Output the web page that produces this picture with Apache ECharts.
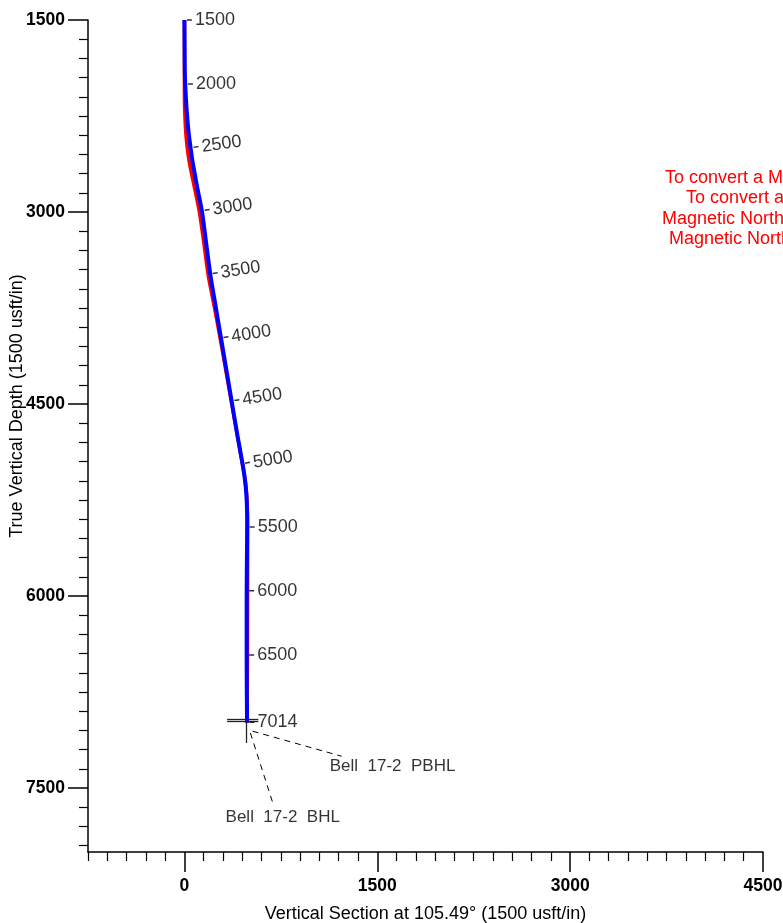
<!DOCTYPE html>
<html>
<head>
<meta charset="utf-8">
<script src="https://cdn.jsdelivr.net/npm/echarts@6/dist/echarts.min.js"></script>
<style>html,body{margin:0;padding:0;background:#fff;overflow:hidden}#c{width:783px;height:923px}</style>
</head>
<body>
<div id="c"></div>
<script>
// ---- data ----
const xTickValues = [0, 1500, 3000, 4500];
const yTickValues = [1500, 3000, 4500, 6000, 7500];

// Actual wellpath (blue): TVD and Vertical Section (usft)
const actualTVD = [1500, 1900, 2000, 2100, 2200, 2300, 2400, 2500, 2600, 2700, 2800, 3000, 3250, 3500, 3750, 4000, 4250, 4500, 4750, 4950, 5050, 5150, 5250, 5400, 5600, 6000, 6500, 6990];
const actualVS  = [0,    3,    6,    11,   17,   25,   35,   48,   62,   80,   98,   137,  170,  203,  245,  287,  329,  371,  413,  449,  465,  477,  484,  488,  487,  484,  484,  487];

// Plan wellpath (red)
const planTVD = [1500, 2100, 2200, 2300, 2400, 2500, 2600, 2700, 2800, 3000, 3250, 3500, 3750, 4000, 4250, 4500, 4750, 4950, 5050, 5150, 5250, 5400, 6000, 6500, 6990];
const planVS  = [0,    0,    2,    6,    12,   22,   36,   55,   76,   116,  152,  186,  234,  280,  324,  368,  412,  448,  466,  479,  487,  491,  491,  490,  487];

// Measured depth annotations along the path
const mdValues = [1500, 2000, 2500, 3000, 3500, 4000, 4500, 5000, 5500, 6000, 6500, 7014];
const mdTVD    = [1500, 2000, 2492, 2984, 3477, 3977, 4469, 4959, 5461, 5959, 6461, 6986];
const mdVS     = [0,    8,    52,   138,  200,  284,  369,  452,  488,  484,  484,  486];

// Targets
const targetNames = ['Bell 17-2 PBHL', 'Bell 17-2 BHL'];
const targetSegments = [
  [[332, 6961], [575, 6961]],
  [[332, 6982], [575, 6982]],
  [[483, 6982], [483, 7148]]
];
const leaderSegments = [
  [[530, 7056], [1223, 7252]],
  [[513, 7070], [690, 7625]]
];
const targetLabelAnchors = [[1130, 7328], [320, 7732]];

const noteLines = [
  'To convert a Magnetic Direction to a Grid Direction, Add 10.54° East',
  'To convert a Magnetic Direction to a True Direction, Add 10.93° East',
  'Magnetic North is 10.54° East of Grid North',
  'Magnetic North is 10.93° East of True North'
];

// ---- styling / layout ----
const FONT = '"Liberation Sans", Arial, sans-serif';
const mdLabelRotate = [0, 0, 8, 9, 9, 9, 9, 9, 0, 0, 0, 0];
const noteX = [665, 686, 662, 669];
const noteY = [178, 198, 219, 239];

function minorList(a, b, step, majors) {
  const out = [];
  for (let v = a; v <= b + 1e-6; v += step) if (majors.indexOf(v) < 0) out.push(v);
  return out;
}
const xMinor = minorList(-750, 4500, 150, xTickValues);
const yMinor = minorList(1500, 7950, 150, yTickValues);

const zip = (a, b) => a.map((v, i) => [v, b[i]]);
const plain = v => String(v);

const chart = echarts.init(document.getElementById('c'), null, {renderer: 'canvas'});

const axisLineStyle = {color: '#000', width: 1.5};

const option = {
  backgroundColor: '#fff',
  animation: false,
  grid: {left: 88, top: 20, right: 20, bottom: 71, containLabel: false, outerBoundsMode: 'none'},
  xAxis: [
    {
      type: 'value', min: -750, max: 4500, position: 'bottom',
      axisLine: {show: true, onZero: false, lineStyle: axisLineStyle},
      axisTick: {show: true, customValues: xTickValues, length: 20, lineStyle: {color: '#000', width: 1.5}},
      axisLabel: {show: true, customValues: xTickValues, formatter: plain, margin: 25, color: '#000', fontWeight: 'bold', fontSize: 17.5, fontFamily: FONT},
      splitLine: {show: false},
      name: 'Vertical Section at 105.49° (1500 usft/in)',
      nameLocation: 'middle', nameGap: 53,
      nameTextStyle: {color: '#000', fontSize: 18, fontFamily: FONT}
    },
    {
      type: 'value', min: -750, max: 4500, position: 'bottom',
      axisLine: {show: false, onZero: false},
      axisTick: {show: true, customValues: xMinor, length: 9, lineStyle: {color: '#000', width: 1.2}},
      axisLabel: {show: false},
      splitLine: {show: false}
    }
  ],
  yAxis: [
    {
      type: 'value', min: 1500, max: 8000, inverse: true, position: 'left',
      axisLine: {show: true, onZero: false, lineStyle: axisLineStyle},
      axisTick: {show: true, customValues: yTickValues, length: 20, lineStyle: {color: '#000', width: 1.5}},
      axisLabel: {show: true, customValues: yTickValues, formatter: plain, margin: 23, color: '#000', fontWeight: 'bold', fontSize: 17.5, fontFamily: FONT},
      splitLine: {show: false}
    },
    {
      type: 'value', min: 1500, max: 8000, inverse: true, position: 'left',
      axisLine: {show: false, onZero: false},
      axisTick: {show: true, customValues: yMinor, length: 9, lineStyle: {color: '#000', width: 1.2}},
      axisLabel: {show: false},
      splitLine: {show: false}
    }
  ],
  graphic: [
    {
      type: 'text', x: 17, y: 406, rotation: Math.PI / 2,
      style: {text: 'True Vertical Depth (1500 usft/in)', fill: '#000', fontSize: 18, fontFamily: FONT, align: 'center', verticalAlign: 'middle'}
    }
  ].concat(noteLines.map((t, i) => ({
    type: 'text', x: noteX[i], y: noteY[i],
    style: {text: t, fill: '#ff0000', fontSize: 18, fontFamily: FONT, align: 'left', verticalAlign: 'middle'}
  }))),
  series: [
    {
      name: 'Plan', type: 'line', xAxisIndex: 0, yAxisIndex: 0,
      data: zip(planVS, planTVD), showSymbol: false, smooth: 0.3,
      lineStyle: {color: '#ff0000', width: 3.5}, z: 2
    },
    {
      name: 'Actual', type: 'line', xAxisIndex: 0, yAxisIndex: 0,
      data: zip(actualVS, actualTVD), showSymbol: false, smooth: 0.3,
      lineStyle: {color: '#0000ff', width: 4}, z: 3
    },
    {
      name: 'Targets', type: 'line', xAxisIndex: 0, yAxisIndex: 0,
      data: [], showSymbol: false,
      markLine: {
        silent: true, symbol: 'none', animation: false,
        label: {show: false},
        lineStyle: {color: '#222', width: 1.3, type: 'solid'},
        data: targetSegments.map(s => [{coord: s[0]}, {coord: s[1]}]).concat(
          leaderSegments.map(s => [{coord: s[0], lineStyle: {type: [6, 5], width: 1, color: '#000'}}, {coord: s[1]}])
        )
      },
      z: 4
    },
    {
      name: 'MD', type: 'scatter', xAxisIndex: 0, yAxisIndex: 0,
      data: mdValues.map((md, i) => ({
        value: [mdVS[i], mdTVD[i], md],
        symbolRotate: mdLabelRotate[i],
        label: {rotate: mdLabelRotate[i]}
      })),
      symbol: 'rect', symbolSize: [5, 1.5], symbolOffset: [5, 0],
      itemStyle: {color: '#000'},
      label: {
        show: true, position: 'right', distance: 3,
        formatter: p => String(p.value[2]),
        color: '#000', textBorderWidth: 0, fontSize: 18, fontFamily: FONT
      },
      z: 5
    },
    {
      name: 'TargetLabels', type: 'scatter', xAxisIndex: 0, yAxisIndex: 0,
      data: targetLabelAnchors.map((a, i) => ({value: a, name: targetNames[i]})),
      symbolSize: 0,
      label: {
        show: true, position: 'right', distance: 0,
        formatter: p => p.name.replace(/ /g, '\u00a0\u00a0'),
        color: '#000', textBorderWidth: 0, fontSize: 17, fontFamily: FONT
      },
      z: 5
    }
  ]
};
chart.setOption(option);
</script>
</body>
</html>
